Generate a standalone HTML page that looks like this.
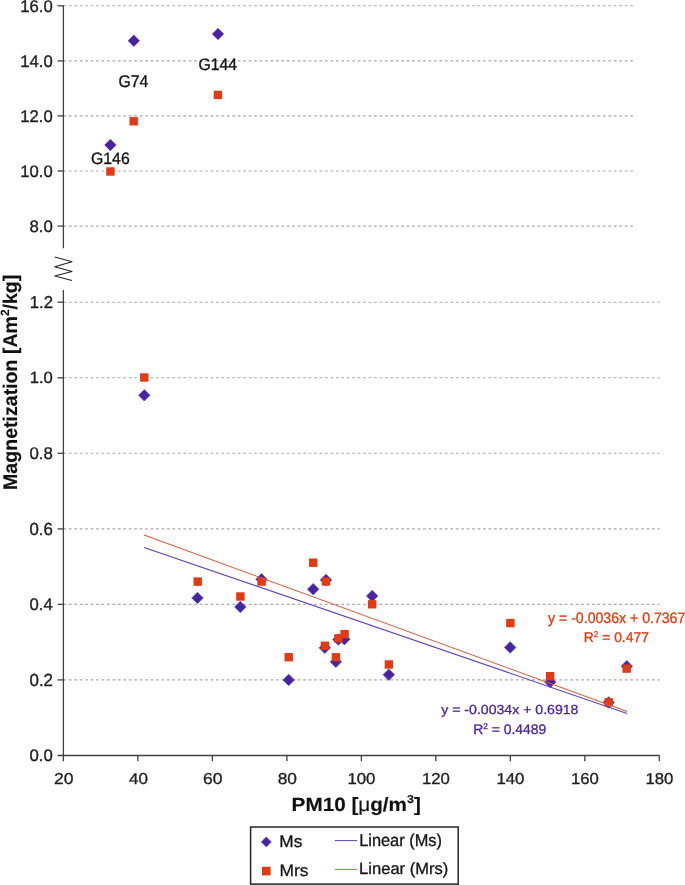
<!DOCTYPE html><html><head><meta charset="utf-8"><style>html,body{margin:0;padding:0;background:#fff;width:685px;height:885px;overflow:hidden}svg{display:block;will-change:transform;text-rendering:geometricPrecision}text{font-family:"Liberation Sans",sans-serif}</style></head><body>
<svg width="685" height="885" viewBox="0 0 685 885">
<rect width="685" height="885" fill="#fff"/>
<g stroke="#A8A8A8" stroke-width="1.1" stroke-dasharray="2.7 2.75" fill="none">
<line x1="63.4" y1="5.8" x2="633.3" y2="5.8"/>
<line x1="63.4" y1="60.9" x2="633.3" y2="60.9"/>
<line x1="63.4" y1="115.9" x2="633.3" y2="115.9"/>
<line x1="63.4" y1="171.0" x2="633.3" y2="171.0"/>
<line x1="63.4" y1="226.1" x2="633.3" y2="226.1"/>
<line x1="63.4" y1="302.2" x2="659.6" y2="302.2"/>
<line x1="63.4" y1="377.8" x2="659.6" y2="377.8"/>
<line x1="63.4" y1="453.3" x2="659.6" y2="453.3"/>
<line x1="63.4" y1="528.9" x2="659.6" y2="528.9"/>
<line x1="63.4" y1="604.4" x2="659.6" y2="604.4"/>
<line x1="63.4" y1="679.9" x2="659.6" y2="679.9"/>
</g>
<g stroke="#404040" stroke-width="1.3" fill="none">
<line x1="63.4" y1="5.2" x2="63.4" y2="248.2"/>
<line x1="57.6" y1="5.8" x2="63.4" y2="5.8"/>
<line x1="57.6" y1="60.9" x2="63.4" y2="60.9"/>
<line x1="57.6" y1="115.9" x2="63.4" y2="115.9"/>
<line x1="57.6" y1="171.0" x2="63.4" y2="171.0"/>
<line x1="57.6" y1="226.1" x2="63.4" y2="226.1"/>
<line x1="63.4" y1="290" x2="63.4" y2="761.2"/>
<line x1="57.6" y1="302.2" x2="63.4" y2="302.2"/>
<line x1="57.6" y1="377.8" x2="63.4" y2="377.8"/>
<line x1="57.6" y1="453.3" x2="63.4" y2="453.3"/>
<line x1="57.6" y1="528.9" x2="63.4" y2="528.9"/>
<line x1="57.6" y1="604.4" x2="63.4" y2="604.4"/>
<line x1="57.6" y1="679.9" x2="63.4" y2="679.9"/>
<line x1="57.6" y1="755.5" x2="659.3" y2="755.5"/>
<line x1="137.89" y1="755.5" x2="137.89" y2="761.2"/>
<line x1="212.38" y1="755.5" x2="212.38" y2="761.2"/>
<line x1="286.87" y1="755.5" x2="286.87" y2="761.2"/>
<line x1="361.36" y1="755.5" x2="361.36" y2="761.2"/>
<line x1="435.85" y1="755.5" x2="435.85" y2="761.2"/>
<line x1="510.34" y1="755.5" x2="510.34" y2="761.2"/>
<line x1="584.83" y1="755.5" x2="584.83" y2="761.2"/>
<line x1="659.32" y1="755.5" x2="659.32" y2="761.2"/>
</g>
<polyline points="54.75,257.1 72,261.7 54.75,266.8 72,271.4 54.75,275.95 72,280.5" fill="none" stroke="#222" stroke-width="1.05" stroke-linejoin="round"/>
<g fill="#4B22A0">
<path d="M133.80 34.80L139.80 40.80L133.80 46.80L127.80 40.80Z"/>
<path d="M218.00 28.00L224.00 34.00L218.00 40.00L212.00 34.00Z"/>
<path d="M110.40 139.00L116.40 145.00L110.40 151.00L104.40 145.00Z"/>
</g>
<g fill="#4B22A0" stroke="#3A58C8" stroke-width="0.7" stroke-linejoin="miter">
<path d="M144.30 389.55L150.05 395.30L144.30 401.05L138.55 395.30Z"/>
<path d="M197.50 592.15L203.25 597.90L197.50 603.65L191.75 597.90Z"/>
<path d="M240.30 601.15L246.05 606.90L240.30 612.65L234.55 606.90Z"/>
<path d="M261.50 573.55L267.25 579.30L261.50 585.05L255.75 579.30Z"/>
<path d="M288.70 674.15L294.45 679.90L288.70 685.65L282.95 679.90Z"/>
<path d="M313.20 583.45L318.95 589.20L313.20 594.95L307.45 589.20Z"/>
<path d="M326.00 574.15L331.75 579.90L326.00 585.65L320.25 579.90Z"/>
<path d="M324.80 642.05L330.55 647.80L324.80 653.55L319.05 647.80Z"/>
<path d="M338.40 633.75L344.15 639.50L338.40 645.25L332.65 639.50Z"/>
<path d="M344.40 633.45L350.15 639.20L344.40 644.95L338.65 639.20Z"/>
<path d="M335.90 656.05L341.65 661.80L335.90 667.55L330.15 661.80Z"/>
<path d="M372.20 590.35L377.95 596.10L372.20 601.85L366.45 596.10Z"/>
<path d="M388.80 668.95L394.55 674.70L388.80 680.45L383.05 674.70Z"/>
<path d="M510.20 641.65L515.95 647.40L510.20 653.15L504.45 647.40Z"/>
<path d="M550.20 676.25L555.95 682.00L550.20 687.75L544.45 682.00Z"/>
<path d="M608.60 696.65L614.35 702.40L608.60 708.15L602.85 702.40Z"/>
<path d="M626.80 660.45L632.55 666.20L626.80 671.95L621.05 666.20Z"/>
</g>
<g fill="#E23A12">
<rect x="129.50" y="117.10" width="8.4" height="8.4"/>
<rect x="213.70" y="90.70" width="8.4" height="8.4"/>
<rect x="106.20" y="167.30" width="8.4" height="8.4"/>
<rect x="140.10" y="373.30" width="8.4" height="8.4"/>
<rect x="193.50" y="577.40" width="8.4" height="8.4"/>
<rect x="236.20" y="592.30" width="8.4" height="8.4"/>
<rect x="257.40" y="577.40" width="8.4" height="8.4"/>
<rect x="284.50" y="653.00" width="8.4" height="8.4"/>
<rect x="309.00" y="558.50" width="8.4" height="8.4"/>
<rect x="321.80" y="577.30" width="8.4" height="8.4"/>
<rect x="320.70" y="641.60" width="8.4" height="8.4"/>
<rect x="334.20" y="634.20" width="8.4" height="8.4"/>
<rect x="340.40" y="630.00" width="8.4" height="8.4"/>
<rect x="331.70" y="653.10" width="8.4" height="8.4"/>
<rect x="367.90" y="600.10" width="8.4" height="8.4"/>
<rect x="384.70" y="660.30" width="8.4" height="8.4"/>
<rect x="506.20" y="618.90" width="8.4" height="8.4"/>
<rect x="545.90" y="672.00" width="8.4" height="8.4"/>
<rect x="604.50" y="698.10" width="8.4" height="8.4"/>
<rect x="622.50" y="664.40" width="8.4" height="8.4"/>
</g>
<line x1="144.1" y1="547.4" x2="627.0" y2="713.4" stroke="#5E42B8" stroke-width="1.1"/>
<line x1="144.1" y1="535.1" x2="627.0" y2="711.5" stroke="#DC5A3A" stroke-width="1.1"/>
<text transform="translate(20.32 12.00) scale(0.9845 1)" font-size="16.93" fill="#1E1E1E" stroke="#1E1E1E" stroke-width="0.36">16.0</text>
<text transform="translate(20.32 67.00) scale(0.9929 1)" font-size="16.79" fill="#1E1E1E" stroke="#1E1E1E" stroke-width="0.35">14.0</text>
<text transform="translate(20.32 122.00) scale(0.9929 1)" font-size="16.79" fill="#1E1E1E" stroke="#1E1E1E" stroke-width="0.35">12.0</text>
<text transform="translate(20.32 177.00) scale(1.0014 1)" font-size="16.64" fill="#1E1E1E" stroke="#1E1E1E" stroke-width="0.35">10.0</text>
<text transform="translate(29.48 232.00) scale(1.0178 1)" font-size="16.50" fill="#1E1E1E" stroke="#1E1E1E" stroke-width="0.34">8.0</text>
<text transform="translate(29.71 308.00) scale(0.9769 1)" font-size="17.14" fill="#1E1E1E" stroke="#1E1E1E" stroke-width="0.36">1.2</text>
<text transform="translate(29.72 383.00) scale(1.0202 1)" font-size="16.29" fill="#1E1E1E" stroke="#1E1E1E" stroke-width="0.34">1.0</text>
<text transform="translate(29.48 459.00) scale(0.9879 1)" font-size="17.00" fill="#1E1E1E" stroke="#1E1E1E" stroke-width="0.35">0.8</text>
<text transform="translate(29.48 535.00) scale(0.9558 1)" font-size="17.57" fill="#1E1E1E" stroke="#1E1E1E" stroke-width="0.37">0.6</text>
<text transform="translate(29.48 610.00) scale(0.9887 1)" font-size="16.86" fill="#1E1E1E" stroke="#1E1E1E" stroke-width="0.35">0.4</text>
<text transform="translate(29.47 686.00) scale(0.9631 1)" font-size="17.57" fill="#1E1E1E" stroke="#1E1E1E" stroke-width="0.36">0.2</text>
<text transform="translate(29.48 761.00) scale(1.0048 1)" font-size="16.71" fill="#1E1E1E" stroke="#1E1E1E" stroke-width="0.35">0.0</text>
<text transform="translate(54.02 784.00) scale(1.1117 1)" font-size="15.79" fill="#1E1E1E" stroke="#1E1E1E" stroke-width="0.31">20</text>
<text transform="translate(129.05 784.00) scale(1.0799 1)" font-size="15.79" fill="#1E1E1E" stroke="#1E1E1E" stroke-width="0.32">40</text>
<text transform="translate(203.00 784.00) scale(1.1117 1)" font-size="15.79" fill="#1E1E1E" stroke="#1E1E1E" stroke-width="0.31">60</text>
<text transform="translate(277.67 784.00) scale(1.1009 1)" font-size="15.79" fill="#1E1E1E" stroke="#1E1E1E" stroke-width="0.32">80</text>
<text transform="translate(347.47 784.00) scale(1.0626 1)" font-size="15.79" fill="#1E1E1E" stroke="#1E1E1E" stroke-width="0.33">100</text>
<text transform="translate(421.96 784.00) scale(1.0626 1)" font-size="15.79" fill="#1E1E1E" stroke="#1E1E1E" stroke-width="0.33">120</text>
<text transform="translate(496.45 784.00) scale(1.0626 1)" font-size="15.79" fill="#1E1E1E" stroke="#1E1E1E" stroke-width="0.33">140</text>
<text transform="translate(570.94 784.00) scale(1.0626 1)" font-size="15.79" fill="#1E1E1E" stroke="#1E1E1E" stroke-width="0.33">160</text>
<text transform="translate(645.43 784.00) scale(1.0626 1)" font-size="15.79" fill="#1E1E1E" stroke="#1E1E1E" stroke-width="0.33">180</text>
<text transform="translate(118.46 87.00) scale(0.9334 1)" font-size="16.93" fill="#141414" stroke="#141414" stroke-width="0.37">G74</text>
<text transform="translate(198.46 70.00) scale(0.9457 1)" font-size="16.64" fill="#141414" stroke="#141414" stroke-width="0.37">G144</text>
<text transform="translate(90.96 164.00) scale(0.9594 1)" font-size="16.50" fill="#141414" stroke="#141414" stroke-width="0.36">G146</text>
<text transform="translate(548.05 623.00) scale(0.9363 1)" font-size="15.07" fill="#E23A12" stroke="#E23A12" stroke-width="0.32">y = -0.0036x + 0.7367</text>
<text transform="translate(583.64 642.00) scale(0.9875 1)" font-size="14.07" fill="#E23A12" stroke="#E23A12" stroke-width="0.30">R<tspan font-size="60%" baseline-shift="66%">2</tspan> = 0.477</text>
<text transform="translate(441.25 714.00) scale(1.0679 1)" font-size="13.21" fill="#4B22A0" stroke="#4B22A0" stroke-width="0.28">y = -0.0034x + 0.6918</text>
<text transform="translate(473.14 734.00) scale(0.9993 1)" font-size="13.93" fill="#4B22A0" stroke="#4B22A0" stroke-width="0.30">R<tspan font-size="60%" baseline-shift="66%">2</tspan> = 0.4489</text>
<text transform="translate(291.60 811.00) scale(1.0781 1)" font-size="19.20" font-weight="bold" fill="#111" stroke="#111" stroke-width="0.14">PM10 [<tspan font-weight="normal">μ</tspan>g/m<tspan font-size="60%" baseline-shift="66%">3</tspan>]</text>
<g transform="matrix(0 -1 1 0 0 764.3)"><text transform="translate(274.38 17.00) scale(0.9896 1)" font-size="19.78" font-weight="bold" fill="#111" stroke="#111" stroke-width="0.15">Magnetization [Am<tspan font-size="60%" baseline-shift="66%">2</tspan>/kg]</text></g>
<rect x="250.6" y="827.0" width="207.6" height="57.1" fill="none" stroke="#262626" stroke-width="1.5"/>
<path d="M266.3 836.9L271.3 841.9L266.3 846.9L261.3 841.9Z" fill="#4B22A0" stroke="#3A58C8" stroke-width="0.7"/>
<rect x="262.0" y="866.8000000000001" width="8.6" height="8.6" fill="#E23A12"/>
<line x1="334.7" y1="840.6" x2="357.1" y2="840.6" stroke="#5E42B8" stroke-width="1.0"/>
<line x1="334.7" y1="869.4" x2="357.1" y2="869.4" stroke="#DC5A3A" stroke-width="1.0"/>
<text transform="translate(279.27 847.00) scale(1.0332 1)" font-size="16.74" fill="#141414" stroke="#141414" stroke-width="0.29">Ms</text>
<text transform="translate(279.45 876.00) scale(1.0536 1)" font-size="16.59" fill="#141414" stroke="#141414" stroke-width="0.28">Mrs</text>
<text transform="translate(359.14 846.00) scale(0.9547 1)" font-size="17.17" fill="#141414" stroke="#141414" stroke-width="0.31">Linear (Ms)</text>
<text transform="translate(359.12 874.00) scale(1.0164 1)" font-size="16.30" fill="#141414" stroke="#141414" stroke-width="0.30">Linear (Mrs)</text>
</svg></body></html>
